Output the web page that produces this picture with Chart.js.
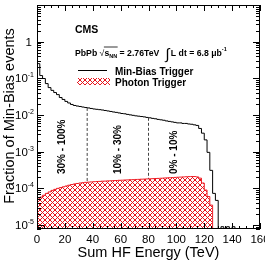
<!DOCTYPE html>
<html>
<head>
<meta charset="utf-8">
<script src="https://cdn.jsdelivr.net/npm/chart.js@4"></script>
<style>
  body { margin: 0; background: #fff; }
  canvas { display: block; }
</style>
</head>
<body>
<canvas id="js--chart" width="265" height="262"></canvas>
<script>
// bin starts (TeV), 2 TeV wide
const minBiasEnergy = [0, 2, 4, 6, 8, 10, 12, 14, 16, 18, 20, 22, 24, 26, 28, 30, 32, 34, 36, 38,
  40, 42, 44, 46, 48, 50, 52, 54, 56, 58, 60, 62, 64, 66, 68, 70, 72, 74, 76, 78,
  80, 82, 84, 86, 88, 90, 92, 94, 96, 98, 100, 102, 104, 106, 108, 110, 112, 114, 116, 118,
  120, 122, 124, 126, 128, 130, 132, 134, 136, 138, 140, 142, 144];
const minBiasFraction = [0.252, 0.119, 0.099, 0.072, 0.056, 0.047, 0.041, 0.036, 0.030, 0.0266,
  0.0235, 0.0213, 0.0194, 0.0182, 0.0176, 0.0171, 0.0165, 0.0160, 0.0156, 0.0151,
  0.0146, 0.0143, 0.0140, 0.0137, 0.0133, 0.0129, 0.0125, 0.0121, 0.0118, 0.0114,
  0.0110, 0.0108, 0.0104, 0.0101, 0.0098, 0.0095, 0.0093, 0.0091, 0.0089, 0.0086,
  0.0084, 0.0081, 0.0079, 0.0076, 0.0074, 0.0072, 0.0069, 0.0067, 0.0065, 0.0063,
  0.0061, 0.0061, 0.0059, 0.0059, 0.0057, 0.0056, 0.0054, 0.0052, 0.0043, 0.0032,
  0.0021, 0.00096, 0.00031, 0.000073, 0.000047, 0.000005, 0.000009, 0.000006, 0.000009, 0.000006,
  0.000009, 0.000005];

const photonEnergy = [0, 2, 4, 6, 8, 10, 12, 14, 16, 18, 20, 22, 24, 26, 28, 30, 32, 34, 36, 38,
  40, 42, 44, 46, 48, 50, 52, 54, 56, 58, 60, 62, 64, 66, 68, 70, 72, 74, 76, 78,
  80, 82, 84, 86, 88, 90, 92, 94, 96, 98, 100, 102, 104, 106, 108, 110, 112, 114, 116, 118,
  120, 122, 124, 126];
const photonFraction = [5.1e-5, 5.8e-5, 6.5e-5, 7.3e-5, 8.0e-5, 8.8e-5, 9.4e-5, 1.0e-4, 1.05e-4, 1.1e-4,
  1.16e-4, 1.22e-4, 1.27e-4, 1.32e-4, 1.36e-4, 1.4e-4, 1.43e-4, 1.46e-4, 1.48e-4, 1.5e-4,
  1.52e-4, 1.54e-4, 1.55e-4, 1.57e-4, 1.58e-4, 1.6e-4, 1.61e-4, 1.63e-4, 1.64e-4, 1.66e-4,
  1.67e-4, 1.69e-4, 1.7e-4, 1.72e-4, 1.73e-4, 1.75e-4, 1.76e-4, 1.78e-4, 1.79e-4, 1.81e-4,
  1.82e-4, 1.84e-4, 1.86e-4, 1.87e-4, 1.89e-4, 1.91e-4, 1.93e-4, 1.95e-4, 1.97e-4, 1.99e-4,
  2.01e-4, 2.03e-4, 2.05e-4, 2.07e-4, 2.09e-4, 2.1e-4, 2.1e-4, 2.05e-4, 1.9e-4, 1.4e-4,
  9e-5, 6e-5, 3.5e-5];

// centrality boundaries (TeV) and where the dashed line meets the min-bias curve
const centralityCuts = [36, 80];
const centralityCutTop = [0.0156, 0.0084];
const centralityLabels = ["30% - 100%", "10% - 30%", "0% - 10%"];
const centralityLabelEnergy = [20, 60, 100];

const xTicks = [0, 20, 40, 60, 80, 100, 120, 140, 160];
const yTicks = [1e-5, 1e-4, 1e-3, 1e-2, 1e-1, 1];
const yTickExp = ["-5", "-4", "-3", "-2", "-1", ""];

const yMin = 7.8e-6;
const yMax = 10;
const FONT = "'Liberation Sans', Arial, Helvetica, sans-serif";

function toSteps(edges, values) {
  const pts = [{ x: edges[0], y: 1e-9 }];
  for (let i = 0; i < values.length; i++) {
    pts.push({ x: edges[i], y: values[i] });
  }
  pts.push({ x: edges[values.length], y: 1e-9 });
  return pts;
}

function makeHatch() {
  const c = document.createElement("canvas");
  c.width = 5;
  c.height = 5;
  const g = c.getContext("2d");
  g.fillStyle = "#fff";
  g.fillRect(0, 0, 5, 5);
  g.strokeStyle = "#e8141c";
  g.lineWidth = 1;
  g.beginPath();
  for (let o = -5; o <= 5; o += 5) {
    g.moveTo(-1 + o, -1);
    g.lineTo(6 + o, 6);
    g.moveTo(6 + o, -1);
    g.lineTo(-1 + o, 6);
  }
  g.stroke();
  return g.createPattern(c, "repeat");
}
const hatch = makeHatch();

function drawSup(ctx, base, sup, xRight, yBase, size) {
  ctx.font = size + "px " + FONT;
  const wb = ctx.measureText(base).width;
  ctx.font = Math.round(size * 0.62) + "px " + FONT;
  const ws = ctx.measureText(sup).width;
  ctx.textAlign = "left";
  ctx.fillText(sup, xRight - ws, yBase - size * 0.45);
  ctx.font = size + "px " + FONT;
  ctx.fillText(base, xRight - ws - wb, yBase);
}

const decorations = {
  id: "decorations",
  beforeDraw(chart) {
    const ctx = chart.ctx;
    ctx.save();
    ctx.fillStyle = "#fff";
    ctx.fillRect(0, 0, chart.width, chart.height);
    ctx.restore();
  },
  afterDatasetsDraw(chart) {
    const { ctx, chartArea: a, scales: { x, y } } = chart;
    ctx.save();
    ctx.strokeStyle = "#000";
    ctx.fillStyle = "#000";
    ctx.lineWidth = 1;

    // frame
    ctx.strokeRect(Math.round(a.left) + 0.5, Math.round(a.top) + 0.5,
      Math.round(a.right - a.left) - 1, Math.round(a.bottom - a.top) - 1);

    // x ticks, inside on bottom and top
    ctx.beginPath();
    for (let v = 0; v <= 160; v += 5) {
      const px = Math.round(x.getPixelForValue(v)) + 0.5;
      const len = v % 20 === 0 ? 6 : 3;
      ctx.moveTo(px, a.bottom);
      ctx.lineTo(px, a.bottom - len);
      ctx.moveTo(px, a.top);
      ctx.lineTo(px, a.top + len);
    }
    // y ticks, log, on left and right
    for (let d = -6; d <= 1; d++) {
      for (let m = 1; m <= 9; m++) {
        const v = m * Math.pow(10, d);
        if (v < yMin || v > yMax) continue;
        const py = Math.round(y.getPixelForValue(v)) + 0.5;
        const len = m === 1 ? 7 : 4;
        ctx.moveTo(a.left, py);
        ctx.lineTo(a.left + len, py);
        ctx.moveTo(a.right, py);
        ctx.lineTo(a.right - len, py);
      }
    }
    ctx.stroke();

    // x tick labels
    ctx.font = "11.5px " + FONT;
    ctx.textAlign = "center";
    ctx.textBaseline = "alphabetic";
    xTicks.forEach(v => ctx.fillText(String(v), x.getPixelForValue(v), 243));

    // y tick labels
    yTicks.forEach((v, i) => {
      const py = y.getPixelForValue(v) + 4;
      if (yTickExp[i] === "") {
        ctx.font = "11.5px " + FONT;
        ctx.textAlign = "right";
        ctx.fillText("1", 32, py);
      } else {
        drawSup(ctx, "10", yTickExp[i], 34, py, 11.5);
      }
    });

    // axis titles
    ctx.font = "14.5px " + FONT;
    ctx.textAlign = "center";
    ctx.fillText("Sum HF Energy (TeV)", (a.left + a.right) / 2, 257);
    ctx.save();
    ctx.translate(14, 116);
    ctx.rotate(-Math.PI / 2);
    ctx.fillText("Fraction of Min-Bias events", 0, 0);
    ctx.restore();

    // centrality labels
    ctx.font = "bold 10px " + FONT;
    ctx.textAlign = "left";
    centralityLabels.forEach((t, i) => {
      ctx.save();
      ctx.translate(x.getPixelForValue(centralityLabelEnergy[i]) + 0.5, 174);
      ctx.rotate(-Math.PI / 2);
      ctx.fillText(t, 0, 0);
      ctx.restore();
    });

    // CMS header
    ctx.font = "bold 10.5px " + FONT;
    ctx.fillText("CMS", 75, 32.5);

    // PbPb sqrt(sNN) = 2.76TeV  int L dt = 6.8 mub^-1
    let cx = 75;
    const by = 55.5;
    ctx.font = "bold 8.7px " + FONT;
    ctx.fillText("PbPb ", cx, by);
    cx += ctx.measureText("PbPb ").width;
    ctx.font = "8.7px " + FONT;
    ctx.fillText("\u221A", cx, by + 0.5);
    cx += ctx.measureText("\u221A").width;
    const rootStart = cx;
    ctx.font = "bold 8.7px " + FONT;
    ctx.fillText("s", cx, by);
    cx += ctx.measureText("s").width;
    ctx.font = "bold 5.5px " + FONT;
    ctx.fillText("NN", cx, by + 2);
    cx += ctx.measureText("NN").width;
    ctx.beginPath();
    ctx.moveTo(rootStart - 0.5, by - 8.5);
    ctx.lineTo(cx + 0.5, by - 8.5);
    ctx.lineWidth = 0.8;
    ctx.stroke();
    ctx.font = "bold 8.7px " + FONT;
    ctx.fillText(" = 2.76TeV", cx, by);
    cx += ctx.measureText(" = 2.76TeV").width + 6;
    ctx.font = "15px " + FONT;
    ctx.fillText("\u222B", cx, by + 3);
    cx += ctx.measureText("\u222B").width + 1.5;
    ctx.font = "bold 8.7px " + FONT;
    ctx.fillText("L dt = 6.8 \u03BCb", cx, by);
    cx += ctx.measureText("L dt = 6.8 \u03BCb").width;
    ctx.font = "bold 5.5px " + FONT;
    ctx.fillText("-1", cx, by - 4.5);

    // legend
    ctx.beginPath();
    ctx.lineWidth = 1;
    ctx.moveTo(78, 70.5);
    ctx.lineTo(107, 70.5);
    ctx.stroke();
    ctx.fillStyle = hatch;
    ctx.fillRect(77, 78, 33, 7);
    ctx.fillStyle = "#000";
    ctx.font = "bold 10px " + FONT;
    ctx.fillText("Min-Bias Trigger", 115, 74.5);
    ctx.fillText("Photon Trigger", 115, 86);

    ctx.restore();
  }
};

const cutSets = centralityCuts.map((e, i) => ({
  label: "cut" + i,
  data: [{ x: e, y: centralityCutTop[i] }, { x: e, y: yMin }],
  borderColor: "#444",
  borderWidth: 1,
  borderDash: [3, 2],
  pointRadius: 0,
  fill: false
}));

const chart = new Chart(document.getElementById("js--chart"), {
  type: "line",
  data: {
    datasets: [
      {
        label: "Photon Trigger",
        data: toSteps(photonEnergy, photonFraction),
        stepped: "before",
        borderColor: "#ee1c24",
        borderWidth: 1,
        backgroundColor: hatch,
        fill: "start",
        pointRadius: 0
      },
      ...cutSets,
      {
        label: "Min-Bias Trigger",
        data: toSteps(minBiasEnergy, minBiasFraction),
        stepped: "before",
        borderColor: "#000",
        borderWidth: 1,
        fill: false,
        pointRadius: 0
      }
    ]
  },
  options: {
    responsive: false,
    devicePixelRatio: 1,
    animation: false,
    layout: { padding: { left: 37, right: 5, top: 5, bottom: 33 } },
    plugins: { legend: { display: false }, tooltip: { enabled: false } },
    scales: {
      x: { type: "linear", min: 0, max: 160, display: false },
      y: { type: "logarithmic", min: yMin, max: yMax, display: false }
    }
  },
  plugins: [decorations]
});
</script>
</body>
</html>
